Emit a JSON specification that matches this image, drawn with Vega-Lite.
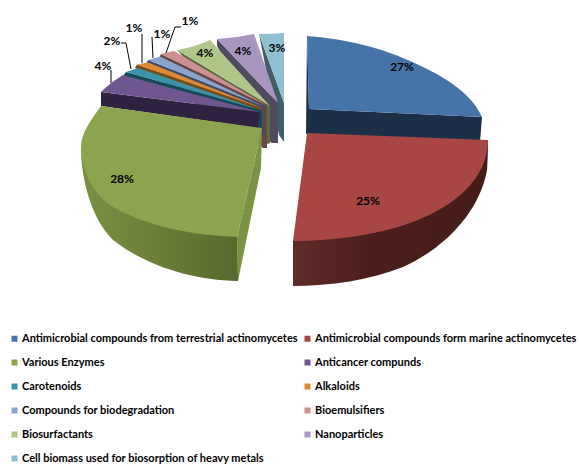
{
  "$schema": "https://vega.github.io/schema/vega-lite/v6.json",
  "width": 579,
  "height": 464,
  "autosize": {"type": "none"},
  "padding": 0,
  "background": "white",
  "view": {"stroke": null},
  "data": {"values": [
    {"rank": 11, "product": "Cell biomass used for biosorption of heavy metals", "share": 0.03},
    {"rank": 10, "product": "Nanoparticles", "share": 0.04},
    {"rank": 9, "product": "Biosurfactants", "share": 0.04},
    {"rank": 8, "product": "Bioemulsifiers", "share": 0.01},
    {"rank": 7, "product": "Compounds for biodegradation", "share": 0.01},
    {"rank": 6, "product": "Alkaloids", "share": 0.01},
    {"rank": 5, "product": "Carotenoids", "share": 0.02},
    {"rank": 4, "product": "Anticancer compunds", "share": 0.04},
    {"rank": 1, "product": "Antimicrobial compounds from terrestrial actinomycetes", "share": 0.27},
    {"rank": 3, "product": "Various Enzymes", "share": 0.28},
    {"rank": 2, "product": "Antimicrobial compounds form marine actinomycetes", "share": 0.25}
  ]},
  "layer": [
    {
      "mark": {"type": "point", "filled": true, "opacity": 1, "size": 4, "strokeWidth": 0},
      "encoding": {
        "x": {"datum": 0, "type": "quantitative", "scale": {"domain": [0, 1]}, "axis": null},
        "y": {"datum": 0, "type": "quantitative", "scale": {"domain": [0, 1], "reverse": true}, "axis": null},
        "fill": {"field": "product", "type": "nominal", "legend": null, "scale": {
          "domain": ["Antimicrobial compounds from terrestrial actinomycetes", "Antimicrobial compounds form marine actinomycetes", "Various Enzymes", "Anticancer compunds", "Carotenoids", "Alkaloids", "Compounds for biodegradation", "Bioemulsifiers", "Biosurfactants", "Nanoparticles", "Cell biomass used for biosorption of heavy metals"],
          "range": ["#1b2f47", "#4c1f1c", "#6c8039", "#2f2240", "#144a56", "#7a4a15", "#3f4b68", "#6a4545", "#5b6a3f", "#4f4a60", "#3f5f66"]
        }},
        "shape": {"field": "product", "type": "nominal", "legend": null, "scale": {
          "domain": ["Antimicrobial compounds from terrestrial actinomycetes", "Antimicrobial compounds form marine actinomycetes", "Various Enzymes", "Anticancer compunds", "Carotenoids", "Alkaloids", "Compounds for biodegradation", "Bioemulsifiers", "Biosurfactants", "Nanoparticles", "Cell biomass used for biosorption of heavy metals"],
          "range": [
            "M307,36 L309,109 L482,117 L480,142 L306,134 Z",
            "M488,140 L487,170 L293,286 L293,241 Z",
            "M81,145 L238,281 L237,237 Z",
            "M101,92 L101,106 L258,128 L260,112 Z",
            "M126,72 L123,76 L258,128 L262,128 L262,110 Z",
            "M137,64.5 L135,68 L260,130 L263,130 L263,108 Z",
            "M148,60 L146,64 L262,135 L265,135 L265,106 Z",
            "M161,54 L159,58 L263,148 L267,148 L267,105 Z",
            "M177,50 L264,145 L270,143 L270,106 Z",
            "M217,39 L217,46 L268,140 L272,143 L278,143 L278,103 Z",
            "M259,34 L279,135 L284,142 L284,103 Z"
          ]
        }}
      }
    },
    {
      "transform": [{"filter": "datum.rank === 2"}],
      "mark": {"type": "point", "filled": true, "opacity": 1, "size": 4, "strokeWidth": 0,
        "shape": "M488,140 L487,170 C480,210 447,247 403,267 C370,280 330,286 293,286 L293,241 Z",
        "fill": {"gradient": "linear", "x1": 0, "x2": 1, "y1": 0, "y2": 0, "stops": [{"offset": 0, "color": "#5f2b28"}, {"offset": 0.4, "color": "#4c1f1c"}, {"offset": 1, "color": "#451b18"}]}
      },
      "encoding": {
        "x": {"datum": 0, "type": "quantitative", "scale": {"domain": [0, 1]}, "axis": null},
        "y": {"datum": 0, "type": "quantitative", "scale": {"domain": [0, 1], "reverse": true}, "axis": null}
      }
    },
    {
      "transform": [{"filter": "datum.rank === 3"}],
      "mark": {"type": "point", "filled": true, "opacity": 1, "size": 4, "strokeWidth": 0,
        "shape": "M81,148 C81,180 92,220 113,240 C145,265 190,280 238,281 L237,237 Z",
        "fill": {"gradient": "linear", "x1": 0, "x2": 1, "y1": 0, "y2": 0, "stops": [{"offset": 0, "color": "#7b9044"}, {"offset": 0.5, "color": "#6a7e38"}, {"offset": 1, "color": "#57692e"}]}
      },
      "encoding": {
        "x": {"datum": 0, "type": "quantitative", "scale": {"domain": [0, 1]}, "axis": null},
        "y": {"datum": 0, "type": "quantitative", "scale": {"domain": [0, 1], "reverse": true}, "axis": null}
      }
    },
    {
      "transform": [{"filter": "datum.rank === 3"}],
      "mark": {"type": "point", "filled": true, "opacity": 1, "size": 4, "strokeWidth": 0, "fill": "#7b9344",
        "shape": "M262,128 L261,168 L238,281 L237,237 Z"},
      "encoding": {
        "x": {"datum": 0, "type": "quantitative", "scale": {"domain": [0, 1]}, "axis": null},
        "y": {"datum": 0, "type": "quantitative", "scale": {"domain": [0, 1], "reverse": true}, "axis": null}
      }
    },
    {
      "mark": {"type": "point", "filled": true, "opacity": 1, "size": 4, "strokeWidth": 0},
      "encoding": {
        "x": {"datum": 0, "type": "quantitative", "scale": {"domain": [0, 1]}, "axis": null},
        "y": {"datum": 0, "type": "quantitative", "scale": {"domain": [0, 1], "reverse": true}, "axis": null},
        "fill": {"field": "product", "type": "nominal", "legend": null, "scale": {
          "domain": ["Antimicrobial compounds from terrestrial actinomycetes", "Antimicrobial compounds form marine actinomycetes", "Various Enzymes", "Anticancer compunds", "Carotenoids", "Alkaloids", "Compounds for biodegradation", "Bioemulsifiers", "Biosurfactants", "Nanoparticles", "Cell biomass used for biosorption of heavy metals"],
          "range": ["#4674a9", "#a84644", "#8ca34f", "#6f568f", "#3a93aa", "#e08933", "#8aa4d0", "#cd8f8f", "#b0c688", "#a896c0", "#8dc1d1"]
        }},
        "shape": {"field": "product", "type": "nominal", "legend": null, "scale": {
          "domain": ["Antimicrobial compounds from terrestrial actinomycetes", "Antimicrobial compounds form marine actinomycetes", "Various Enzymes", "Anticancer compunds", "Carotenoids", "Alkaloids", "Compounds for biodegradation", "Bioemulsifiers", "Biosurfactants", "Nanoparticles", "Cell biomass used for biosorption of heavy metals"],
          "range": [
            "M307,36 C350,39 390,50 423,67 C450,80 472,95 482,117 L309,109 Z",
            "M307,133 L488,140 C488,180 452,208 410,223 C380,234 335,241 293,241 Z",
            "M101,106 L262,128 L237,237 C195,235 150,228 113,207 C95,196 81,172 81,147 C81,133 91,120 101,106 Z",
            "M101,92 Q110,83 123,75 L260,112 Z",
            "M126,72 L138,68 L260,110 Z",
            "M137,64.5 L148,62.5 L262,108 Z",
            "M148,60 L160,56.5 L264,106.5 Z",
            "M161,54 L174,51 L266,105 Z",
            "M177,50 Q195,47 210,40 L270,106 Z",
            "M217,39 Q236,38 254,34 L278,103 Z",
            "M259,34 Q272,34 284,33 L284,103 Z"
          ]
        }}
      }
    },
    {
      "transform": [{"filter": "datum.rank >= 4 && datum.rank <= 8"}],
      "mark": {"type": "point", "filled": false, "opacity": 1, "size": 4, "stroke": "#000000", "strokeWidth": 1},
      "encoding": {
        "x": {"datum": 0, "type": "quantitative", "scale": {"domain": [0, 1]}, "axis": null},
        "y": {"datum": 0, "type": "quantitative", "scale": {"domain": [0, 1], "reverse": true}, "axis": null},
        "shape": {"field": "product", "type": "nominal", "legend": null, "scale": {
          "domain": ["Anticancer compunds", "Carotenoids", "Alkaloids", "Compounds for biodegradation", "Bioemulsifiers"],
          "range": [
            "M111,70 L111,83",
            "M121,43 L126,43 L131,69",
            "M142,34 L142,63",
            "M152,37 L153,58",
            "M181,27 L175,27 L166,53"
          ]
        }}
      }
    },
    {
      "mark": {"type": "text", "font": "Lato", "fontSize": 12, "fontWeight": "bold", "align": "center", "baseline": "middle"},
      "encoding": {
        "x": {"field": "rank", "type": "quantitative", "axis": null, "scale": {
          "domain": [1, 2, 3, 4, 5, 6, 7, 8, 9, 10, 11],
          "range": [402, 368, 122, 103, 112, 134, 162, 190, 205, 243, 277]
        }},
        "y": {"field": "rank", "type": "quantitative", "axis": null, "scale": {
          "domain": [1, 2, 3, 4, 5, 6, 7, 8, 9, 10, 11],
          "range": [67, 201, 179, 66, 41, 28, 34, 21, 53, 51, 48]
        }},
        "text": {"field": "share", "type": "quantitative", "format": ".0%"},
        "color": {"value": "#000000"}
      }
    },
    {
      "mark": {"type": "square", "size": 0, "opacity": 1},
      "encoding": {
        "color": {"field": "product", "type": "nominal", "scale": {
          "domain": ["Antimicrobial compounds from terrestrial actinomycetes", "Antimicrobial compounds form marine actinomycetes", "Various Enzymes", "Anticancer compunds", "Carotenoids", "Alkaloids", "Compounds for biodegradation", "Bioemulsifiers", "Biosurfactants", "Nanoparticles", "Cell biomass used for biosorption of heavy metals"],
          "range": ["#4674a9", "#a84644", "#8ca34f", "#6f568f", "#3a93aa", "#e08933", "#8aa4d0", "#cd8f8f", "#b0c688", "#a896c0", "#8dc1d1"]
        }, "legend": {
          "title": null, "orient": "none", "legendX": 9, "legendY": 333,
          "columns": 2, "direction": "horizontal",
          "symbolType": "square", "symbolSize": 36, "symbolStrokeWidth": 0, "symbolOpacity": 1,
          "labelFont": "Lato", "labelFontSize": 11, "labelFontWeight": "bold", "labelColor": "#000000", "labelLimit": 400, "labelOffset": 2,
          "rowPadding": 12, "columnPadding": 4
        }}
      }
    }
  ],
  "resolve": {"scale": {"x": "independent", "y": "independent", "color": "independent", "fill": "independent", "shape": "independent"}}
}
